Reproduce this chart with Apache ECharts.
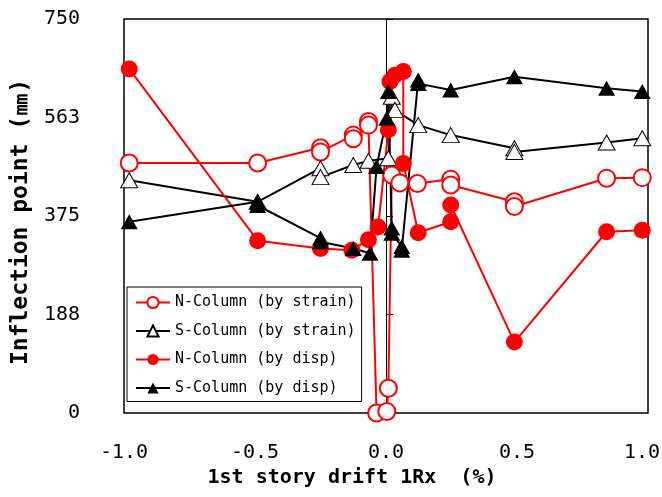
<!DOCTYPE html>
<html><head><meta charset="utf-8">
<script src="https://cdn.jsdelivr.net/npm/echarts@6/dist/echarts.min.js"></script>
<style>html,body{margin:0;padding:0;background:#fff}#c{width:662px;height:497px}</style>
</head><body><div id="c"></div>
<script>
var seriesNames = ['N-Column (by strain)', 'S-Column (by strain)', 'N-Column (by disp)', 'S-Column (by disp)'];
var xTicks = [-1.0, -0.5, 0.0, 0.5, 1.0];
var yTicks = [0, 187.5, 375, 562.5, 750];

var nStrainX = [-0.98, -0.49, -0.25, -0.25, -0.125, -0.125, -0.067, -0.067, -0.036, 0.003, 0.009, 0.022, 0.053, 0.12, 0.247, 0.247, 0.49, 0.49, 0.842, 0.978];
var nStrainY = [476, 476, 505, 497, 529, 522, 555, 548, 0, 3, 47, 453, 438, 437, 445, 434, 402, 393, 447, 448];

var sStrainX = [-0.98, -0.49, -0.25, -0.25, -0.125, -0.067, 0.009, 0.022, 0.034, 0.123, 0.247, 0.49, 0.49, 0.842, 0.978];
var sStrainY = [443, 402, 466, 449, 472, 480, 485, 602, 577, 548, 529, 504, 497, 515, 523];

var nDispX = [-0.98, -0.49, -0.25, -0.13, -0.067, -0.03, 0.009, 0.015, 0.034, 0.066, 0.066, 0.123, 0.247, 0.247, 0.49, 0.842, 0.978];
var nDispY = [655, 328, 313, 310, 330, 354, 539, 631, 643, 650, 475, 343, 364, 396, 135, 345, 348];

var sDispX = [-0.98, -0.49, -0.49, -0.25, -0.25, -0.125, -0.061, -0.036, 0.003, 0.009, 0.022, 0.022, 0.06, 0.06, 0.123, 0.123, 0.247, 0.49, 0.842, 0.978];
var sDispY = [364, 402, 395, 333, 326, 313, 304, 469, 561, 612, 352, 342, 317, 310, 634, 627, 615, 640, 618, 612];

function pairs(xs, ys) { return xs.map(function (x, i) { return [x, ys[i]]; }); }

var chart = echarts.init(document.getElementById('c'), null, {renderer: 'canvas'});
var mono = 'DejaVu Sans Mono';
var yMin = yTicks[0], yMax = yTicks[yTicks.length - 1], yInt = yTicks[1] - yTicks[0];
var xMin = xTicks[0], xMax = xTicks[xTicks.length - 1], xInt = xTicks[1] - xTicks[0];

function mk(name, xs, ys, symbol, fill, border, lineColor, size, bw) {
  return {
    name: name, type: 'line', xAxisIndex: 0, yAxisIndex: 0,
    data: pairs(xs, ys), symbol: symbol, symbolSize: size, showSymbol: true,
    lineStyle: {color: lineColor, width: 2},
    itemStyle: {color: fill, borderColor: border, borderWidth: bw, opacity: 1},
    emphasis: {disabled: true}, animation: false
  };
}

chart.setOption({
  animation: false,
  grid: {left: 124, right: 14, top: 19, bottom: 84, containLabel: false, outerBoundsMode: 'none',
         show: true, borderColor: '#000', borderWidth: 1.5, backgroundColor: 'transparent'},
  xAxis: {
    type: 'value', min: xMin, max: xMax, interval: xInt,
    axisLine: {show: false, onZero: false}, axisTick: {show: false}, splitLine: {show: false},
    axisLabel: {fontFamily: mono, fontSize: 20, color: '#000', margin: 30,
      formatter: function (v) { return v === xMax ? '{r|' + v.toFixed(1) + '}' : v.toFixed(1); },
      rich: {r: {fontFamily: mono, fontSize: 20, color: '#000', padding: [0, 12, 0, 0]}}},
    name: '1st story drift 1Rx  (%)', nameLocation: 'middle', nameGap: 53,
    nameTextStyle: {fontFamily: mono, fontSize: 20, fontWeight: 'bold', color: '#000', padding: [0, 68, 0, 0]}
  },
  yAxis: [{
    type: 'value', min: yMin, max: yMax, interval: yInt, position: 'left',
    axisLine: {show: false}, axisTick: {show: false}, splitLine: {show: false},
    axisLabel: {fontFamily: mono, fontSize: 20, color: '#000', margin: 44, formatter: function (v) { return String(Math.round(v)); }},
    name: 'Inflection point (㎜)', nameLocation: 'middle', nameGap: 68,
    nameTextStyle: {fontFamily: mono, fontSize: 23, fontWeight: 'bold', color: '#000', padding: [0, 12, 0, 0]}
  }, {
    type: 'value', min: yMin, max: yMax, interval: yInt, position: 'left', offset: -262,
    axisLine: {show: true, onZero: false, lineStyle: {color: '#000', width: 1}},
    axisTick: {show: true, inside: true, length: 7, lineStyle: {color: '#000', width: 1}},
    axisLabel: {show: false}, splitLine: {show: false}
  }],
  legend: {
    orient: 'vertical', left: 127, top: 287, data: seriesNames,
    backgroundColor: '#fff', borderColor: '#000', borderWidth: 1,
    padding: [8, 6, 6, 8], itemGap: 13.5, itemWidth: 34, itemHeight: 14,
    textStyle: {fontFamily: mono, fontSize: 15, color: '#000'}
  },
  series: [
    mk(seriesNames[0], nStrainX, nStrainY, 'emptyCircle', '#ff0000', '#ff0000', '#ff0000', 17, 1.5),
    mk(seriesNames[1], sStrainX, sStrainY, 'triangle', '#ffffff', '#000000', '#000000', [17, 15], 1),
    mk(seriesNames[2], nDispX, nDispY, 'circle', '#ff0000', '#ff0000', '#ff0000', 17, 0),
    mk(seriesNames[3], sDispX, sDispY, 'triangle', '#000000', '#000000', '#000000', [17, 15], 0)
  ]
});
</script></body></html>
